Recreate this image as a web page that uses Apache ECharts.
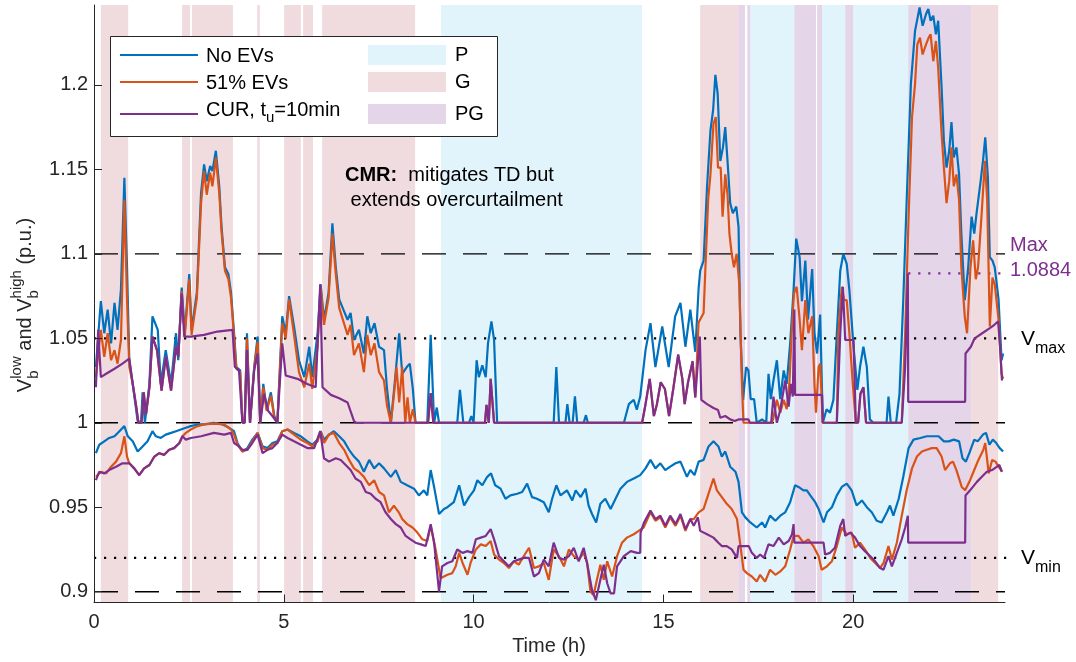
<!DOCTYPE html>
<html>
<head>
<meta charset="utf-8">
<script src="https://cdn.jsdelivr.net/npm/echarts@6/dist/echarts.min.js"></script>
<style>
html,body{margin:0;padding:0;background:#fff;}
#chart{width:1076px;height:662px;}
</style>
</head>
<body>
<div id="chart"></div>
<script>
// ---- axis ticks ----
const hourTicks = [0, 5, 10, 15, 20];
const voltTicks = [0.9, 0.95, 1, 1.05, 1.1, 1.15, 1.2];

// ---- voltage limits ----
const vMax = 1.05;
const vMin = 0.92;
const dashedLevels = [0.9, 1.0, 1.1];
const curMax = 1.0884;
const curMaxStart = 21.45;

// ---- operating periods (hours) ----
const bandsP = [[9.14, 14.44], [17.29, 18.45], [19.18, 19.79], [20.0, 21.45]];
const bandsG = [[0.18, 0.90], [2.32, 2.53], [2.58, 3.66], [4.30, 4.37], [5.01, 5.45], [5.51, 5.77], [6.01, 8.46], [15.97, 16.97], [23.11, 23.82]];
const bandsPG = [[16.97, 17.15], [17.21, 17.29], [18.45, 19.02], [19.05, 19.18], [19.79, 20.0], [21.45, 23.11]];

// ---- highest bus voltage [hour, p.u.] ----
const noEvHigh = [[0.05,1.033],[0.18,1.072],[0.27,1.053],[0.36,1.067],[0.45,1.047],[0.54,1.071],[0.62,1.055],[0.71,1.079],[0.80,1.145],[0.87,1.092],[0.93,1.037],[1.02,1.023],[1.15,1.001],[1.24,1.0],[1.28,1.018],[1.34,1.0],[1.46,1.023],[1.54,1.063],[1.68,1.055],[1.76,1.023],[1.89,1.043],[2.03,1.023],[2.16,1.053],[2.22,1.037],[2.31,1.080],[2.39,1.053],[2.51,1.088],[2.57,1.055],[2.71,1.077],[2.82,1.136],[2.90,1.153],[2.97,1.143],[3.06,1.152],[3.12,1.149],[3.21,1.161],[3.30,1.140],[3.36,1.116],[3.45,1.092],[3.54,1.088],[3.61,1.077],[3.69,1.053],[3.75,1.033],[3.85,1.031],[3.91,1.0],[3.97,1.0],[4.03,1.053],[4.11,1.0],[4.22,1.033],[4.31,1.051],[4.38,1.0],[4.46,1.023],[4.55,1.008],[4.66,1.018],[4.75,1.004],[4.83,1.0],[4.96,1.063],[5.05,1.053],[5.14,1.075],[5.27,1.057],[5.40,1.037],[5.54,1.027],[5.67,1.045],[5.75,1.027],[5.89,1.053],[5.97,1.082],[6.06,1.061],[6.18,1.077],[6.28,1.118],[6.37,1.092],[6.46,1.073],[6.57,1.067],[6.68,1.061],[6.76,1.065],[6.85,1.049],[6.98,1.055],[7.11,1.041],[7.20,1.063],[7.29,1.053],[7.39,1.059],[7.51,1.045],[7.64,1.043],[7.72,1.02],[7.82,1.0],[7.92,1.023],[8.04,1.053],[8.12,1.029],[8.24,1.033],[8.32,1.035],[8.40,1.02],[8.47,1.0],[8.78,1.0],[8.87,1.052],[8.96,1.0],[9.03,1.009],[9.09,1.0],[9.57,1.0],[9.64,1.0195],[9.73,1.0],[9.88,1.0],[9.94,1.004],[10.0,1.0],[10.08,1.037],[10.14,1.027],[10.23,1.034],[10.32,1.027],[10.38,1.047],[10.47,1.060],[10.54,1.049],[10.62,1.0],[12.11,1.0],[12.18,1.033],[12.25,1.0],[12.42,1.0],[12.47,1.011],[12.53,1.0],[12.61,1.0],[12.67,1.0156],[12.73,1.0],[12.90,1.0],[12.96,1.0045],[13.01,1.0],[13.96,1.0],[14.09,1.011],[14.22,1.0136],[14.30,1.0077],[14.39,1.0155],[14.53,1.043],[14.66,1.059],[14.79,1.033],[14.97,1.057],[15.14,1.033],[15.31,1.063],[15.45,1.071],[15.58,1.045],[15.71,1.067],[15.84,1.042],[15.93,1.080],[15.97,1.090],[16.06,1.096],[16.15,1.1395],[16.24,1.173],[16.31,1.185],[16.37,1.206],[16.43,1.195],[16.50,1.155],[16.57,1.163],[16.63,1.175],[16.69,1.155],[16.76,1.130],[16.83,1.124],[16.92,1.128],[16.98,1.116],[17.03,1.053],[17.10,1.0136],[17.18,1.033],[17.24,1.031],[17.30,1.014],[17.39,1.014],[17.46,1.0],[17.60,1.002],[17.71,1.0],[17.77,1.029],[17.83,1.014],[17.90,1.025],[17.99,1.037],[18.08,1.014],[18.17,1.031],[18.25,1.023],[18.34,1.047],[18.43,1.0785],[18.50,1.109],[18.59,1.098],[18.65,1.072],[18.74,1.096],[18.81,1.061],[18.92,1.091],[18.98,1.053],[19.05,1.041],[19.13,1.064],[19.20,1.0],[19.30,1.008],[19.39,1.006],[19.48,1.0136],[19.57,1.053],[19.66,1.090],[19.74,1.100],[19.83,1.094],[19.90,1.0785],[20.01,1.045],[20.11,1.0195],[20.18,1.033],[20.27,1.045],[20.36,1.033],[20.44,1.002],[20.53,1.0],[20.88,1.0],[20.93,1.0155],[20.99,1.0],[21.13,1.0],[21.22,1.017],[21.32,1.0726],[21.41,1.1316],[21.52,1.2005],[21.63,1.232],[21.75,1.2458],[21.83,1.235],[21.92,1.242],[21.98,1.245],[22.04,1.238],[22.11,1.241],[22.18,1.230],[22.24,1.238],[22.33,1.1985],[22.39,1.167],[22.46,1.151],[22.53,1.161],[22.59,1.178],[22.65,1.157],[22.72,1.163],[22.79,1.147],[22.85,1.112],[22.94,1.0726],[23.03,1.092],[23.12,1.122],[23.19,1.112],[23.25,1.124],[23.35,1.1415],[23.42,1.155],[23.48,1.169],[23.55,1.145],[23.60,1.098],[23.67,1.096],[23.73,1.092],[23.83,1.073],[23.91,1.037],[23.95,1.041]];

const ev51High = [[0.05,1.027],[0.18,1.055],[0.27,1.039],[0.36,1.053],[0.45,1.037],[0.54,1.043],[0.62,1.035],[0.71,1.049],[0.80,1.132],[0.87,1.073],[0.93,1.033],[1.02,1.023],[1.11,1.010],[1.17,1.0],[1.25,1.0],[1.31,1.018],[1.37,1.005],[1.46,1.021],[1.54,1.051],[1.66,1.043],[1.78,1.019],[1.89,1.039],[2.03,1.019],[2.16,1.045],[2.22,1.039],[2.31,1.078],[2.39,1.051],[2.51,1.085],[2.57,1.052],[2.71,1.074],[2.82,1.130],[2.90,1.149],[2.97,1.135],[3.06,1.148],[3.12,1.140],[3.21,1.157],[3.30,1.136],[3.36,1.113],[3.45,1.090],[3.54,1.085],[3.61,1.074],[3.69,1.051],[3.75,1.032],[3.85,1.030],[3.91,1.0],[3.97,1.0],[4.03,1.050],[4.11,1.0],[4.22,1.032],[4.31,1.048],[4.38,1.0],[4.46,1.021],[4.55,1.007],[4.66,1.016],[4.75,1.003],[4.83,1.0],[4.96,1.059],[5.05,1.050],[5.14,1.073],[5.27,1.052],[5.40,1.030],[5.54,1.021],[5.67,1.035],[5.75,1.020],[5.89,1.045],[5.97,1.080],[6.06,1.058],[6.18,1.074],[6.28,1.112],[6.37,1.088],[6.46,1.068],[6.57,1.060],[6.68,1.052],[6.76,1.058],[6.85,1.040],[6.98,1.047],[7.11,1.030],[7.20,1.052],[7.29,1.040],[7.39,1.047],[7.51,1.030],[7.64,1.025],[7.72,1.01],[7.82,1.0],[7.90,1.016],[7.97,1.033],[8.04,1.012],[8.12,1.033],[8.20,1.0],[8.26,1.015],[8.32,1.0],[8.40,1.008],[8.47,1.0],[8.80,1.0],[8.87,1.0175],[8.94,1.0],[10.30,1.0],[10.34,1.0106],[10.40,1.0],[10.45,1.026],[10.54,1.0],[14.44,1.0],[14.53,1.011],[14.64,1.026],[14.75,1.004],[14.83,1.011],[14.93,1.024],[15.04,1.020],[15.15,1.004],[15.26,1.020],[15.39,1.040],[15.50,1.026],[15.56,1.011],[15.65,1.024],[15.77,1.036],[15.84,1.015],[15.93,1.0595],[16.06,1.065],[16.18,1.132],[16.24,1.147],[16.32,1.177],[16.38,1.181],[16.44,1.151],[16.51,1.151],[16.56,1.122],[16.63,1.147],[16.69,1.135],[16.74,1.112],[16.80,1.100],[16.86,1.092],[16.93,1.100],[17.00,1.082],[17.07,1.023],[17.11,1.0],[17.86,1.0],[17.90,1.003],[17.99,1.0136],[18.08,1.006],[18.17,1.0136],[18.25,1.008],[18.32,1.0234],[18.38,1.053],[18.44,1.0765],[18.51,1.0805],[18.59,1.061],[18.65,1.043],[18.74,1.0726],[18.82,1.053],[18.92,1.063],[18.98,1.023],[19.02,1.006],[19.09,1.033],[19.13,1.035],[19.20,1.0],[19.57,1.0],[19.61,1.053],[19.70,1.0805],[19.76,1.0726],[19.83,1.0726],[19.90,1.053],[19.99,1.023],[20.07,1.0],[20.13,1.0],[20.19,1.017],[20.27,1.021],[20.34,1.0],[21.28,1.0],[21.37,1.053],[21.46,1.122],[21.55,1.181],[21.63,1.2005],[21.69,1.224],[21.76,1.228],[21.83,1.218],[21.92,1.224],[21.99,1.228],[22.04,1.230],[22.11,1.214],[22.18,1.226],[22.24,1.210],[22.33,1.171],[22.39,1.151],[22.46,1.130],[22.53,1.143],[22.59,1.163],[22.65,1.140],[22.72,1.147],[22.79,1.132],[22.85,1.092],[22.94,1.063],[23.00,1.053],[23.09,1.092],[23.16,1.108],[23.23,1.085],[23.29,1.092],[23.38,1.122],[23.47,1.155],[23.53,1.132],[23.60,1.057],[23.67,1.086],[23.73,1.082],[23.83,1.061],[23.91,1.029],[23.95,1.026]];

const curHigh = [[0.05,1.021],[0.11,1.055],[0.18,1.027],[0.32,1.029],[0.54,1.032],[0.75,1.035],[0.93,1.038],[1.02,1.023],[1.11,1.010],[1.17,1.0],[1.25,1.0],[1.31,1.018],[1.37,1.005],[1.46,1.021],[1.54,1.051],[1.66,1.043],[1.78,1.019],[1.89,1.039],[2.03,1.019],[2.16,1.045],[2.22,1.039],[2.31,1.0765],[2.38,1.051],[2.55,1.051],[2.90,1.052],[3.25,1.054],[3.65,1.055],[3.71,1.033],[3.82,1.031],[3.91,1.0],[3.97,1.0],[4.03,1.043],[4.11,1.0],[4.22,1.031],[4.31,1.041],[4.38,1.0],[4.48,1.017],[4.59,1.007],[4.70,1.004],[4.83,1.0],[4.96,1.047],[5.05,1.028],[5.36,1.026],[5.62,1.023],[5.84,1.021],[5.96,1.082],[6.02,1.021],[6.24,1.0165],[6.46,1.0145],[6.68,1.012],[6.85,1.001],[6.91,1.0],[8.80,1.0],[8.87,1.0175],[8.94,1.0],[10.30,1.0],[10.34,1.0106],[10.40,1.0],[10.45,1.026],[10.54,1.0],[14.44,1.0],[14.53,1.011],[14.64,1.026],[14.75,1.004],[14.83,1.011],[14.93,1.024],[15.04,1.020],[15.15,1.004],[15.26,1.020],[15.39,1.0405],[15.50,1.026],[15.56,1.011],[15.65,1.024],[15.77,1.0365],[15.84,1.015],[15.96,1.051],[16.0,1.0136],[16.15,1.011],[16.32,1.0087],[16.44,1.0075],[16.50,1.003],[16.63,1.004],[16.76,1.002],[16.88,1.001],[16.92,1.0],[16.98,1.002],[17.24,1.002],[17.28,1.0],[17.84,1.0],[17.90,1.0155],[17.99,1.0],[18.08,1.0077],[18.21,1.025],[18.30,1.0096],[18.36,1.023],[18.41,1.0155],[18.45,1.067],[18.47,1.0165],[19.18,1.0165],[19.20,1.0],[19.57,1.0],[19.66,1.053],[19.73,1.0805],[19.79,1.049],[20.01,1.049],[20.07,1.0],[20.13,1.0],[20.19,1.017],[20.27,1.021],[20.34,1.0],[21.28,1.0],[21.37,1.033],[21.44,curMax],[21.45,1.0124],[22.95,1.0124],[22.96,1.041],[23.10,1.045],[23.20,1.050],[23.40,1.053],[23.60,1.056],[23.72,1.058],[23.82,1.060],[23.87,1.045],[23.92,1.025]];

// ---- lowest bus voltage [hour, p.u.] ----
const noEvLow = [[0.05,0.982],[0.14,0.987],[0.27,0.989],[0.40,0.991],[0.54,0.992],[0.67,0.995],[0.80,0.998],[0.89,0.992],[1.02,0.989],[1.15,0.983],[1.28,0.986],[1.41,0.989],[1.54,0.995],[1.63,0.992],[1.76,0.991],[1.89,0.993],[2.03,0.994],[2.16,0.995],[2.29,0.996],[2.42,0.997],[2.55,0.998],[2.73,0.999],[2.90,0.999],[3.16,1.0],[3.39,0.999],[3.56,0.997],[3.69,0.995],[3.78,0.988],[3.91,0.983],[4.04,0.985],[4.17,0.990],[4.31,0.994],[4.44,0.986],[4.57,0.985],[4.70,0.988],[4.83,0.989],[4.96,0.995],[5.10,0.996],[5.27,0.994],[5.45,0.992],[5.62,0.989],[5.75,0.987],[5.89,0.990],[5.97,0.995],[6.06,0.990],[6.19,0.993],[6.32,0.995],[6.46,0.992],[6.59,0.989],[6.72,0.984],[6.85,0.980],[6.98,0.977],[7.11,0.971],[7.25,0.978],[7.38,0.973],[7.51,0.976],[7.64,0.973],[7.82,0.968],[7.95,0.972],[8.08,0.965],[8.25,0.963],[8.43,0.961],[8.56,0.957],[8.69,0.960],[8.78,0.957],[8.87,0.972],[8.96,0.962],[9.09,0.946],[9.22,0.949],[9.31,0.950],[9.48,0.953],[9.62,0.963],[9.75,0.951],[9.88,0.956],[10.01,0.960],[10.10,0.966],[10.23,0.963],[10.36,0.968],[10.46,0.970],[10.57,0.963],[10.71,0.961],[10.84,0.955],[10.97,0.957],[11.15,0.958],[11.28,0.959],[11.41,0.964],[11.54,0.956],[11.67,0.955],[11.85,0.953],[11.98,0.947],[12.07,0.955],[12.18,0.963],[12.29,0.957],[12.46,0.960],[12.60,0.954],[12.69,0.960],[12.82,0.956],[12.95,0.961],[13.03,0.951],[13.12,0.946],[13.23,0.941],[13.34,0.952],[13.47,0.955],[13.61,0.949],[13.74,0.955],[13.87,0.961],[14.04,0.965],[14.22,0.967],[14.39,0.969],[14.53,0.973],[14.66,0.978],[14.79,0.973],[14.92,0.976],[15.05,0.972],[15.18,0.974],[15.32,0.976],[15.45,0.977],[15.62,0.968],[15.71,0.972],[15.82,0.969],[15.93,0.977],[16.06,0.978],[16.19,0.986],[16.32,0.989],[16.45,0.986],[16.54,0.980],[16.63,0.983],[16.76,0.974],[16.90,0.971],[16.98,0.965],[17.07,0.947],[17.16,0.944],[17.29,0.941],[17.46,0.938],[17.60,0.941],[17.68,0.938],[17.81,0.945],[17.95,0.942],[18.08,0.945],[18.21,0.947],[18.34,0.953],[18.47,0.963],[18.56,0.962],[18.69,0.960],[18.78,0.960],[18.87,0.957],[19.0,0.953],[19.09,0.949],[19.22,0.941],[19.31,0.947],[19.44,0.950],[19.57,0.957],[19.70,0.962],[19.83,0.964],[19.96,0.960],[20.09,0.951],[20.23,0.954],[20.36,0.950],[20.49,0.947],[20.62,0.942],[20.75,0.941],[20.89,0.947],[20.97,0.951],[21.06,0.945],[21.20,0.955],[21.32,0.968],[21.46,0.985],[21.59,0.990],[21.77,0.991],[21.94,0.992],[22.12,0.992],[22.25,0.992],[22.39,0.989],[22.52,0.989],[22.65,0.990],[22.79,0.989],[22.88,0.979],[22.97,0.977],[23.06,0.982],[23.19,0.990],[23.28,0.989],[23.42,0.993],[23.50,0.994],[23.59,0.987],[23.68,0.990],[23.77,0.988],[23.86,0.985],[23.95,0.983]];

const ev51Low = [[0.05,0.968],[0.18,0.971],[0.32,0.970],[0.45,0.974],[0.58,0.977],[0.71,0.982],[0.80,0.992],[0.87,0.980],[0.93,0.976],[1.06,0.973],[1.19,0.969],[1.32,0.973],[1.46,0.975],[1.59,0.980],[1.72,0.982],[1.85,0.981],[1.98,0.984],[2.11,0.985],[2.25,0.988],[2.33,0.992],[2.42,0.994],[2.55,0.996],[2.73,0.998],[2.90,0.999],[3.16,0.9995],[3.43,0.999],[3.61,0.996],[3.69,0.993],[3.78,0.987],[3.91,0.983],[4.04,0.984],[4.17,0.989],[4.31,0.994],[4.44,0.985],[4.57,0.984],[4.70,0.987],[4.83,0.988],[4.96,0.995],[5.10,0.996],[5.27,0.993],[5.45,0.990],[5.62,0.988],[5.75,0.986],[5.89,0.989],[5.97,0.995],[6.06,0.988],[6.19,0.993],[6.32,0.994],[6.46,0.988],[6.59,0.984],[6.72,0.978],[6.85,0.973],[6.98,0.971],[7.11,0.968],[7.25,0.963],[7.38,0.966],[7.51,0.959],[7.64,0.957],[7.77,0.947],[7.90,0.951],[8.03,0.947],[8.12,0.943],[8.25,0.940],[8.39,0.938],[8.52,0.935],[8.65,0.931],[8.78,0.930],[8.87,0.939],[9.0,0.925],[9.13,0.908],[9.31,0.910],[9.44,0.911],[9.53,0.915],[9.62,0.923],[9.71,0.917],[9.84,0.910],[9.92,0.917],[10.06,0.925],[10.19,0.928],[10.32,0.927],[10.45,0.930],[10.54,0.922],[10.67,0.919],[10.80,0.917],[10.93,0.914],[11.06,0.918],[11.19,0.916],[11.32,0.921],[11.46,0.926],[11.59,0.914],[11.72,0.915],[11.85,0.917],[11.98,0.907],[12.11,0.925],[12.25,0.921],[12.38,0.915],[12.51,0.925],[12.64,0.921],[12.77,0.919],[12.90,0.923],[12.99,0.917],[13.08,0.900],[13.16,0.898],[13.25,0.907],[13.34,0.916],[13.43,0.907],[13.52,0.918],[13.65,0.909],[13.78,0.921],[13.91,0.929],[14.04,0.932],[14.22,0.934],[14.35,0.936],[14.48,0.938],[14.66,0.947],[14.79,0.942],[14.92,0.944],[15.05,0.938],[15.18,0.944],[15.32,0.939],[15.45,0.945],[15.58,0.936],[15.71,0.943],[15.80,0.943],[15.93,0.947],[16.06,0.949],[16.19,0.958],[16.32,0.967],[16.41,0.960],[16.54,0.956],[16.67,0.952],[16.80,0.949],[16.94,0.943],[17.02,0.929],[17.11,0.913],[17.20,0.911],[17.33,0.909],[17.46,0.906],[17.55,0.910],[17.68,0.906],[17.81,0.913],[17.95,0.910],[18.08,0.912],[18.21,0.915],[18.34,0.925],[18.43,0.933],[18.56,0.933],[18.69,0.929],[18.82,0.931],[18.95,0.927],[19.09,0.921],[19.17,0.913],[19.31,0.915],[19.44,0.918],[19.57,0.927],[19.70,0.938],[19.83,0.934],[19.96,0.935],[20.05,0.926],[20.18,0.929],[20.31,0.925],[20.45,0.920],[20.58,0.917],[20.71,0.914],[20.80,0.917],[20.93,0.927],[21.02,0.919],[21.15,0.929],[21.28,0.945],[21.41,0.960],[21.55,0.973],[21.68,0.980],[21.81,0.983],[21.94,0.984],[22.07,0.985],[22.20,0.985],[22.33,0.980],[22.42,0.972],[22.55,0.976],[22.63,0.977],[22.72,0.972],[22.86,0.962],[22.95,0.960],[23.08,0.966],[23.17,0.971],[23.30,0.978],[23.43,0.984],[23.48,0.988],[23.57,0.970],[23.66,0.978],[23.75,0.977],[23.83,0.974],[23.92,0.971]];

const curLow = [[0.05,0.966],[0.14,0.971],[0.27,0.970],[0.40,0.972],[0.58,0.974],[0.75,0.976],[0.93,0.976],[1.06,0.973],[1.19,0.969],[1.32,0.973],[1.46,0.975],[1.59,0.980],[1.72,0.982],[1.85,0.981],[1.98,0.984],[2.11,0.985],[2.25,0.988],[2.33,0.992],[2.42,0.990],[2.55,0.991],[2.82,0.992],[3.16,0.994],[3.43,0.993],[3.61,0.994],[3.69,0.988],[3.82,0.986],[3.91,0.984],[4.04,0.984],[4.17,0.988],[4.31,0.993],[4.44,0.982],[4.57,0.984],[4.70,0.985],[4.83,0.988],[4.96,0.993],[5.10,0.991],[5.27,0.989],[5.45,0.987],[5.62,0.985],[5.80,0.985],[5.96,0.995],[6.06,0.979],[6.19,0.977],[6.37,0.979],[6.50,0.978],[6.63,0.975],[6.76,0.972],[6.89,0.967],[7.03,0.965],[7.16,0.959],[7.29,0.958],[7.42,0.955],[7.55,0.953],[7.68,0.947],[7.82,0.943],[7.95,0.940],[8.08,0.938],[8.21,0.933],[8.34,0.931],[8.47,0.929],[8.61,0.928],[8.74,0.927],[8.87,0.940],[8.96,0.929],[9.09,0.900],[9.17,0.915],[9.31,0.917],[9.44,0.918],[9.57,0.925],[9.71,0.923],[9.84,0.924],[9.97,0.923],[10.06,0.931],[10.19,0.932],[10.32,0.933],[10.45,0.937],[10.54,0.931],[10.67,0.921],[10.80,0.918],[10.93,0.915],[11.06,0.918],[11.19,0.919],[11.32,0.920],[11.46,0.920],[11.59,0.909],[11.72,0.911],[11.85,0.919],[11.98,0.915],[12.11,0.929],[12.25,0.920],[12.38,0.919],[12.51,0.921],[12.64,0.926],[12.77,0.918],[12.90,0.926],[12.99,0.917],[13.12,0.901],[13.22,0.895],[13.34,0.907],[13.43,0.916],[13.52,0.905],[13.61,0.899],[13.70,0.899],[13.78,0.915],[13.96,0.921],[14.14,0.924],[14.31,0.923],[14.39,0.923],[14.40,0.935],[14.49,0.941],[14.66,0.948],[14.79,0.943],[14.92,0.945],[15.05,0.939],[15.18,0.945],[15.32,0.940],[15.45,0.946],[15.58,0.937],[15.71,0.943],[15.80,0.939],[15.91,0.944],[15.97,0.936],[16.15,0.934],[16.32,0.932],[16.45,0.929],[16.54,0.927],[16.67,0.927],[16.80,0.925],[16.94,0.920],[16.98,0.927],[17.25,0.927],[17.33,0.923],[17.46,0.920],[17.55,0.922],[17.65,0.920],[17.77,0.928],[17.90,0.927],[18.04,0.932],[18.17,0.928],[18.30,0.930],[18.39,0.934],[18.43,0.940],[18.45,0.929],[19.22,0.929],[19.26,0.922],[19.39,0.923],[19.52,0.926],[19.66,0.939],[19.74,0.943],[19.79,0.933],[19.92,0.935],[20.05,0.932],[20.18,0.927],[20.31,0.924],[20.45,0.921],[20.58,0.918],[20.71,0.914],[20.80,0.913],[20.93,0.921],[21.02,0.915],[21.15,0.923],[21.28,0.931],[21.37,0.938],[21.44,0.945],[21.45,0.929],[22.95,0.929],[22.96,0.957],[23.08,0.960],[23.26,0.965],[23.39,0.968],[23.52,0.971],[23.66,0.972],[23.79,0.974],[23.85,0.975],[23.92,0.971]];

// ---- styling ----
const FONT = '"Liberation Sans", Arial, Helvetica, sans-serif';
const AXIS_COLOR = '#262626';
const C_BLUE = '#0072BD', C_ORANGE = '#D95319', C_PURPLE = '#7E2F8E';
const C_P = '#E1F3FB', C_G = '#F0DBDF', C_PG = '#E4D5E8';

const measureCtx = document.createElement('canvas').getContext('2d');
function textWidth(str, size, weight) {
  measureCtx.font = (weight || 'normal') + ' ' + size + 'px ' + FONT;
  return measureCtx.measureText(str).width;
}

// lays out text pieces with sub/superscripts; "stack" places a piece under the previous one
function scriptText(pieces, x, y, opts) {
  opts = opts || {};
  const color = opts.color || '#000';
  let cx = 0, prevStart = 0, prevW = 0;
  const children = [];
  pieces.forEach(p => {
    const size = p.size || 20;
    const w = textWidth(p.text, size, p.weight);
    const start = p.stack ? prevStart : cx;
    children.push({
      type: 'text', x: start, y: p.dy || 0, silent: true, z: 100,
      style: { text: p.text, font: (p.weight || 'normal') + ' ' + size + 'px ' + FONT, fill: color, align: 'left', verticalAlign: 'middle' }
    });
    if (p.stack) { cx = prevStart + Math.max(prevW, w); }
    else { cx = start + w; prevStart = start; prevW = w; }
  });
  const total = cx;
  const gy = opts.rotate ? y + total / 2 : y;
  return { type: 'group', x: x, y: gy, rotation: opts.rotate ? Math.PI / 2 : 0, z: 100, children: children };
}

function curve(name, data, color) {
  return {
    type: 'line', name: name, data: data, showSymbol: false, symbol: 'none',
    lineStyle: { color: color, width: 2.2 }, itemStyle: { color: color },
    z: 5, silent: true
  };
}
function refLine(level, color, type, width, xEnd) {
  return {
    type: 'line', data: [[0, level], [xEnd, level]], showSymbol: false, symbol: 'none',
    lineStyle: { color: color, type: type, width: width }, z: 3, silent: true, clip: false
  };
}
function bandItems(bands, color) {
  return bands.map(b => [{ xAxis: b[0], itemStyle: { color: color, opacity: 1 } }, { xAxis: b[1] }]);
}

const chart = echarts.init(document.getElementById('chart'), null, { renderer: 'canvas' });

const series = [
  {
    type: 'line', data: [[0, 1], [24, 1]], showSymbol: false, symbol: 'none',
    lineStyle: { opacity: 0 }, z: 1, silent: true,
    markArea: {
      silent: true,
      data: [].concat(bandItems(bandsG, C_G), bandItems(bandsP, C_P), bandItems(bandsPG, C_PG))
    }
  }
];
dashedLevels.forEach(l => series.push(refLine(l, '#000', [24, 17], 1.4, 24)));
series.push(refLine(vMax, '#000', [2.2, 7.8], 2.2, 24.3));
series.push(refLine(vMin, '#000', [2.2, 7.8], 2.2, 24.3));
series.push({
  type: 'line', data: [[curMaxStart, curMax], [24, curMax]], showSymbol: false, symbol: 'none',
  lineStyle: { color: C_PURPLE, type: [2.2, 7.8], width: 2.2 }, z: 3, silent: true, clip: false
});
series.push(curve('No EVs', noEvHigh, C_BLUE));
series.push(curve('No EVs', noEvLow, C_BLUE));
series.push(curve('51% EVs', ev51High, C_ORANGE));
series.push(curve('51% EVs', ev51Low, C_ORANGE));
series.push(curve('CUR', curHigh, C_PURPLE));
series.push(curve('CUR', curLow, C_PURPLE));

const fmtVolt = v => String(+(+v).toFixed(2));

const legendLineX1 = 120, legendLineX2 = 198;
const legendRows = [
  { y: 55, color: C_BLUE },
  { y: 82, color: C_ORANGE },
  { y: 114, color: C_PURPLE }
];
const patchRows = [
  { y: 45, color: C_P, label: 'P', ly: 55 },
  { y: 72, color: C_G, label: 'G', ly: 82 },
  { y: 104, color: C_PG, label: 'PG', ly: 114 }
];

const graphics = [
  // legend frame
  { type: 'rect', z: 90, silent: true, shape: { x: 110.5, y: 36.5, width: 387, height: 100 }, style: { fill: '#fff', stroke: AXIS_COLOR, lineWidth: 1 } }
];
legendRows.forEach(r => graphics.push({
  type: 'line', z: 95, silent: true, shape: { x1: legendLineX1, y1: r.y, x2: legendLineX2, y2: r.y }, style: { stroke: r.color, lineWidth: 2.2 }
}));
graphics.push({ type: 'text', z: 95, silent: true, x: 206, y: 56, style: { text: 'No EVs', font: '20px ' + FONT, fill: '#000', verticalAlign: 'middle' } });
graphics.push({ type: 'text', z: 95, silent: true, x: 206, y: 83, style: { text: '51% EVs', font: '20px ' + FONT, fill: '#000', verticalAlign: 'middle' } });
graphics.push(scriptText([{ text: 'CUR, t' }, { text: 'u', size: 15, dy: 8 }, { text: '=10min' }], 206, 110, {}));
patchRows.forEach(r => {
  graphics.push({ type: 'rect', z: 95, silent: true, shape: { x: 368, y: r.y, width: 78, height: 20 }, style: { fill: r.color } });
  graphics.push({ type: 'text', z: 95, silent: true, x: 455, y: r.ly, style: { text: r.label, font: '20px ' + FONT, fill: '#000', verticalAlign: 'middle' } });
});
// annotation
graphics.push({
  type: 'text', z: 95, silent: true, x: 345, y: 187.5,
  style: {
    text: '{b|CMR:}  mitigates TD but\n extends overcurtailment',
    font: '20px ' + FONT, fill: '#000', verticalAlign: 'middle', lineHeight: 25,
    rich: { b: { fontWeight: 'bold', fontSize: 20, fontFamily: FONT, fill: '#000', lineHeight: 25 } }
  }
});
// limit labels
graphics.push(scriptText([{ text: 'V', size: 21 }, { text: 'max', size: 16, dy: 10 }], 1021, 339, {}));
graphics.push(scriptText([{ text: 'V', size: 21 }, { text: 'min', size: 16, dy: 10 }], 1021, 558, {}));
graphics.push({ type: 'text', z: 95, silent: true, x: 1010, y: 245, style: { text: 'Max', font: '20px ' + FONT, fill: C_PURPLE, verticalAlign: 'middle' } });
graphics.push({ type: 'text', z: 95, silent: true, x: 1010, y: 270, style: { text: String(curMax), font: '20px ' + FONT, fill: C_PURPLE, verticalAlign: 'middle' } });
// axis titles
graphics.push({ type: 'text', z: 95, silent: true, x: 549, y: 646, style: { text: 'Time (h)', font: '20px ' + FONT, fill: AXIS_COLOR, align: 'center', verticalAlign: 'middle' } });
graphics.push(scriptText([
  { text: 'V' }, { text: 'low', size: 15, dy: -8 }, { text: 'b', size: 15, dy: 9, stack: true },
  { text: ' and V' }, { text: 'high', size: 15, dy: -8 }, { text: 'b', size: 15, dy: 9, stack: true },
  { text: ' (p.u.)' }
], 25, 305, { rotate: true, color: AXIS_COLOR }));

chart.setOption({
  animation: false,
  backgroundColor: '#fff',
  grid: { left: 94, right: 71, top: 5, bottom: 59.5, containLabel: false },
  xAxis: {
    type: 'value', min: 0, max: 24, z: 10,
    axisLine: { show: true, onZero: false, lineStyle: { color: AXIS_COLOR, width: 1 } },
    axisTick: { show: true, inside: true, length: 8, customValues: hourTicks, lineStyle: { color: AXIS_COLOR } },
    axisLabel: { customValues: hourTicks, margin: 10, color: AXIS_COLOR, fontSize: 20, fontFamily: FONT },
    splitLine: { show: false }
  },
  yAxis: {
    type: 'value', min: 0.8936, max: 1.2473, z: 10,
    axisLine: { show: true, onZero: false, lineStyle: { color: AXIS_COLOR, width: 1 } },
    axisTick: { show: true, inside: true, length: 8, customValues: voltTicks, lineStyle: { color: AXIS_COLOR } },
    axisLabel: { customValues: voltTicks, margin: 6, color: AXIS_COLOR, fontSize: 20, fontFamily: FONT, formatter: fmtVolt },
    splitLine: { show: false }
  },
  series: series,
  graphic: { elements: graphics }
});
</script>
</body>
</html>
